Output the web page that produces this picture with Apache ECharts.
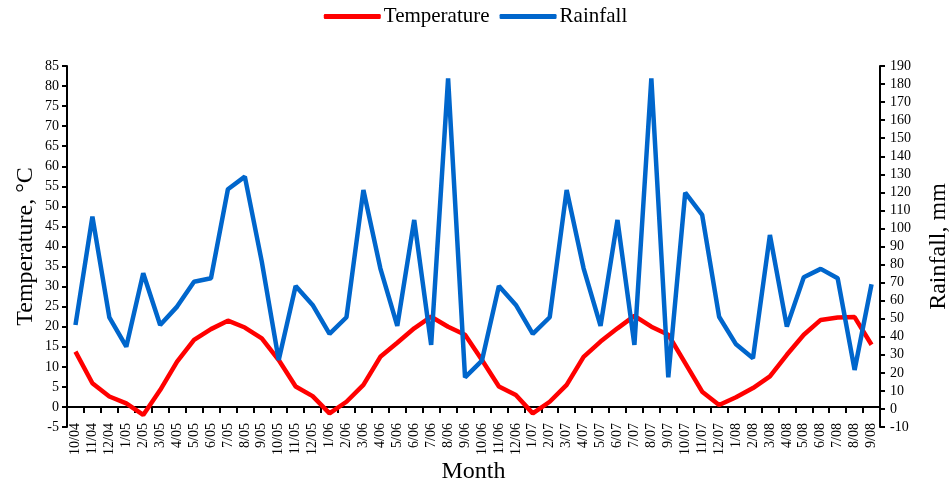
<!DOCTYPE html>
<html><head><meta charset="utf-8">
<script src="https://cdn.jsdelivr.net/npm/echarts@6/dist/echarts.min.js"></script>
<style>html,body{margin:0;padding:0;background:#fff}#c{width:951px;height:483px}</style>
</head><body><div id="c"></div>
<script>
const months = ["10/04","11/04","12/04","1/05","2/05","3/05","4/05","5/05","6/05","7/05","8/05","9/05",
"10/05","11/05","12/05","1/06","2/06","3/06","4/06","5/06","6/06","7/06","8/06","9/06",
"10/06","11/06","12/06","1/07","2/07","3/07","4/07","5/07","6/07","7/07","8/07","9/07",
"10/07","11/07","12/07","1/08","2/08","3/08","4/08","5/08","6/08","7/08","8/08","9/08"];
const temperature = [13.8,5.9,2.6,0.9,-2.0,4.2,11.3,16.7,19.4,21.5,19.8,17.1,
11.7,5.1,2.7,-1.6,1.3,5.5,12.5,16.0,19.6,22.5,20.0,18.0,
11.7,5.1,3.0,-1.6,1.3,5.5,12.5,16.3,19.6,22.7,20.0,18.0,
10.9,3.8,0.5,2.4,4.7,7.6,13.0,18.0,21.7,22.3,22.4,15.5];
const rainfall = [46.5,106.5,50.8,34.5,75.2,46.5,56.7,70.5,72.4,121.7,128.7,81.6,
27.1,68.1,57.6,41.6,50.8,121.3,77.9,46.0,104.7,35.5,183.2,17.5,
26.8,68.1,57.6,41.6,50.8,121.3,77.9,46.0,104.7,35.5,183.2,17.5,
119.8,107.5,51.1,35.8,28.1,96.4,45.6,73.0,77.6,72.4,21.6,69.1];

const font = "'Liberation Serif','Times New Roman',serif";
const chart = echarts.init(document.getElementById('c'));
chart.setOption({
  animation:false,
  textStyle:{fontFamily:font,color:'#000'},
  legend:{top:1,left:'center',itemWidth:57,itemHeight:5,itemGap:10,
    textStyle:{fontFamily:font,fontSize:21,color:'#000',padding:[0,0,0,-2]},
    data:[{name:'Temperature',icon:'roundRect'},{name:'Rainfall',icon:'roundRect'}]},
  grid:{left:67,right:71,top:66,bottom:56,outerBoundsMode:'none',containLabel:false},
  xAxis:{type:'category',data:months,boundaryGap:true,
    name:'Month',nameLocation:'middle',nameGap:33,nameMoveOverlap:false,
    nameTextStyle:{fontFamily:font,fontSize:24,color:'#000'},
    axisLine:{onZero:true,onZeroAxisIndex:0,lineStyle:{color:'#000',width:2}},
    axisTick:{show:true,length:6,lineStyle:{color:'#000',width:2},interval:0},
    axisLabel:{rotate:90,interval:0,margin:-4,fontFamily:font,fontSize:14,color:'#000'},
    splitLine:{show:false}},
  yAxis:[
    {type:'value',min:-5,max:85,interval:5,position:'left',
     name:'Temperature, °C',nameLocation:'middle',nameGap:29,nameRotate:90,nameMoveOverlap:false,
     nameTextStyle:{fontFamily:font,fontSize:24,color:'#000'},
     axisLine:{show:true,lineStyle:{color:'#000',width:2}},
     axisTick:{show:true,length:5,lineStyle:{color:'#000',width:2}},
     axisLabel:{fontFamily:font,fontSize:14,color:'#000',margin:8},
     splitLine:{show:false}},
    {type:'value',min:-10,max:190,interval:10,position:'right',
     name:'Rainfall, mm',nameLocation:'middle',nameGap:47,nameRotate:90,nameMoveOverlap:false,
     nameTextStyle:{fontFamily:font,fontSize:24,color:'#000'},
     axisLine:{show:true,lineStyle:{color:'#000',width:2}},
     axisTick:{show:true,length:5,lineStyle:{color:'#000',width:2}},
     axisLabel:{fontFamily:font,fontSize:14,color:'#000',margin:10},
     splitLine:{show:false}}
  ],
  series:[
    {name:'Temperature',type:'line',yAxisIndex:0,data:temperature,symbol:'none',
     lineStyle:{color:'#FF0000',width:4.5},itemStyle:{color:'#FF0000'}},
    {name:'Rainfall',type:'line',yAxisIndex:1,data:rainfall,symbol:'none',
     lineStyle:{color:'#0066CC',width:4.5},itemStyle:{color:'#0066CC'}}
  ]
});
</script></body></html>
